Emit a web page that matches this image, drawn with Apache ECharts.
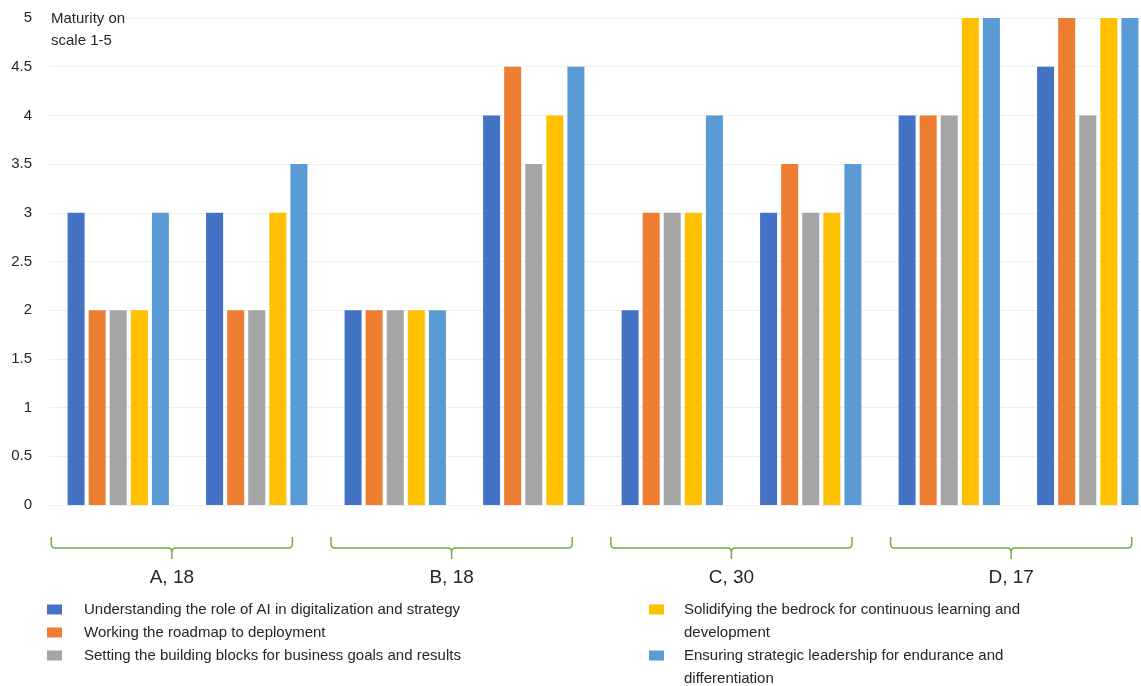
<!DOCTYPE html>
<html>
<head>
<meta charset="utf-8">
<script src="https://cdn.jsdelivr.net/npm/echarts@6/dist/echarts.min.js"></script>
<style>
  html, body { margin: 0; padding: 0; overflow: hidden; background: #fff; }
  #chart { width: 1160px; height: 686px; }
</style>
</head>
<body>
<div id="chart"></div>
<script>
// two survey rounds per company
const groups = ['A-1', 'A-2', 'B-1', 'B-2', 'C-1', 'C-2', 'D-1', 'D-2']
const companies = ['A, 18', 'B, 18', 'C, 30', 'D, 17']

const understanding = [3, 3, 2, 4, 2, 3, 4, 4.5]
const roadmap = [2, 2, 2, 4.5, 3, 3.5, 4, 5]
const buildingBlocks = [2, 2, 2, 3.5, 3, 3, 4, 4]
const bedrock = [2, 3, 2, 4, 3, 3, 5, 5]
const leadership = [3, 3.5, 2, 4.5, 4, 3.5, 5, 5]

const names = [
  'Understanding the role of AI in digitalization and strategy',
  'Working the roadmap to deployment',
  'Setting the building blocks for business goals and results',
  'Solidifying the bedrock for continuous learning and development',
  'Ensuring strategic leadership for endurance and differentiation'
]
const colors = ['#4472C4', '#ED7D31', '#A5A5A5', '#FFC000', '#5B9BD5']
const values = [understanding, roadmap, buildingBlocks, bedrock, leadership]

const font = 'Liberation Sans, Arial, sans-serif'
const green = '#70AD47'

// leading blank line keeps the icon level with the first text line
const wrapped = {
  [names[3]]: ' \nSolidifying the bedrock for continuous learning and\ndevelopment',
  [names[4]]: ' \nEnsuring strategic leadership for endurance and\ndifferentiation'
}

function bracket(params, api) {
  const cx = api.coord([api.value(0), 0])[0]
  const w = api.size([1, 0])[0] * 0.862
  const top = params.coordSys.y
  const L = cx - w / 2, R = cx + w / 2
  const mid = top + 11, tip = top + 22
  const d = [
    'M', L, top, 'L', L, mid - 4, 'Q', L, mid, L + 4, mid,
    'L', cx - 4, mid, 'Q', cx, mid, cx, mid + 4, 'L', cx, tip,
    'M', cx, mid + 4, 'Q', cx, mid, cx + 4, mid,
    'L', R - 4, mid, 'Q', R, mid, R, mid - 4, 'L', R, top
  ].join(' ')
  return {
    type: 'path',
    shape: { pathData: d },
    style: { fill: 'none', stroke: green, lineWidth: 1.5 }
  }
}

const barSeries = values.map((v, i) => ({
  name: names[i],
  type: 'bar',
  data: v,
  barWidth: 17,
  barGap: '24%',
  itemStyle: { color: colors[i] },
  xAxisIndex: 0,
  yAxisIndex: 0
}))

const legendBase = {
  orient: 'vertical',
  icon: 'rect',
  itemWidth: 15,
  itemHeight: 10,
  itemGap: 0,
  padding: 0,
  selectedMode: false
}

const options = {
  animation: false,
  textStyle: { fontFamily: font },
  title: {
    text: 'Maturity on\nscale 1-5',
    left: 51,
    top: 8,
    padding: 0,
    textStyle: { fontFamily: font, fontSize: 15, fontWeight: 'normal', color: '#262626', lineHeight: 22 }
  },
  grid: [
    { left: 49, right: 3, top: 18, bottom: 181 },
    { left: 32, right: 9, top: 537, height: 22 }
  ],
  xAxis: [
    {
      type: 'category',
      data: groups,
      gridIndex: 0,
      axisLine: { show: false },
      axisTick: { show: false },
      axisLabel: { show: false }
    },
    {
      type: 'category',
      data: companies,
      gridIndex: 1,
      axisLine: { show: false },
      axisTick: { show: false },
      axisLabel: { fontSize: 19, color: '#262626', margin: 9, fontFamily: font }
    }
  ],
  yAxis: [
    {
      type: 'value',
      gridIndex: 0,
      min: 0,
      max: 5,
      interval: 0.5,
      axisLine: { show: false },
      axisTick: { show: false },
      axisLabel: { fontSize: 15, color: '#262626', margin: 17, fontFamily: font },
      splitLine: { lineStyle: { color: '#EFEFEF', width: 1 } }
    },
    { type: 'value', gridIndex: 1, min: 0, max: 1, show: false }
  ],
  legend: [
    Object.assign({}, legendBase, {
      data: names.slice(0, 3),
      left: 47,
      top: 598,
      textStyle: { fontFamily: font, fontSize: 15, color: '#262626', lineHeight: 23, padding: [0, 0, 0, 17] }
    }),
    Object.assign({}, legendBase, {
      data: [names[3]],
      left: 649,
      top: 575,
      formatter: (n) => wrapped[n],
      textStyle: { fontFamily: font, fontSize: 15, color: '#262626', lineHeight: 23, padding: [0, 0, 0, 15] }
    }),
    Object.assign({}, legendBase, {
      data: [names[4]],
      left: 649,
      top: 621,
      formatter: (n) => wrapped[n],
      textStyle: { fontFamily: font, fontSize: 15, color: '#262626', lineHeight: 23, padding: [0, 0, 0, 15] }
    })
  ],
  series: barSeries.concat([
    {
      type: 'custom',
      xAxisIndex: 1,
      yAxisIndex: 1,
      renderItem: bracket,
      data: companies.map((c, i) => [i]),
      silent: true
    }
  ])
}

const myChart = echarts.init(document.getElementById('chart'), null, { renderer: 'canvas' })
myChart.setOption(options)
</script>
</body>
</html>
